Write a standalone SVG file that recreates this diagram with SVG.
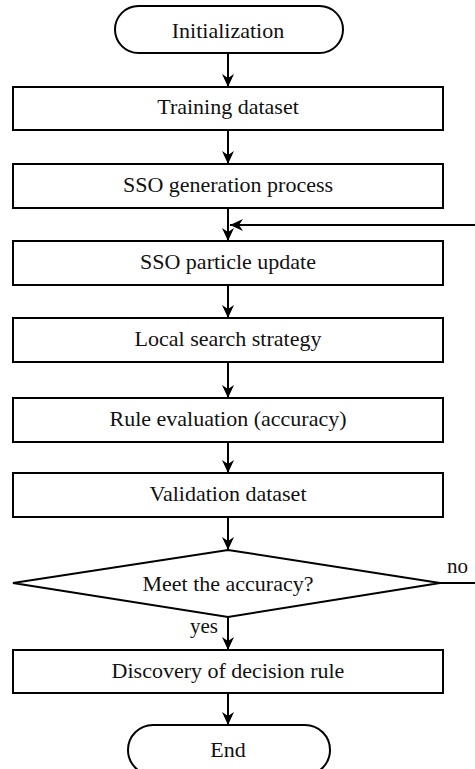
<svg xmlns="http://www.w3.org/2000/svg" width="475" height="769" viewBox="0 0 475 769">
<defs>
<style>
.n{fill:#fff;stroke:#000;stroke-width:2}
.c{fill:none;stroke:#000;stroke-width:2}
.t{font-family:'Liberation Serif','Times New Roman',serif;font-size:22px;fill:#111;text-anchor:middle}
.l{font-family:'Liberation Serif','Times New Roman',serif;font-size:21px;fill:#111}
</style>
<marker id="ah" viewBox="0 0 14 14" refX="13" refY="7" markerWidth="14" markerHeight="14" markerUnits="userSpaceOnUse" orient="auto">
<path d="M0,1 L13,7 L0,13 L4,7 z" fill="#000"/>
</marker>
</defs>
<rect width="475" height="769" fill="#fff"/>
<g id="connectors">
<path class="c" d="M228,53 V87" marker-end="url(#ah)"/>
<path class="c" d="M228,130 V164" marker-end="url(#ah)"/>
<path class="c" d="M228,208 V241" marker-end="url(#ah)"/>
<path class="c" d="M475,225 H230" marker-end="url(#ah)"/>
<path class="c" d="M228,285 V318" marker-end="url(#ah)"/>
<path class="c" d="M228,362 V398" marker-end="url(#ah)"/>
<path class="c" d="M228,442 V473" marker-end="url(#ah)"/>
<path class="c" d="M228,517 V550" marker-end="url(#ah)"/>
<path class="c" d="M228,617 V650" marker-end="url(#ah)"/>
<path class="c" d="M228,693 V725" marker-end="url(#ah)"/>
<path class="c" d="M440,583 H475"/>
<text class="l" x="190" y="633">yes</text>
<text class="l" x="447" y="573">no</text>
</g>
<g id="init">
<rect class="n" x="115" y="6" width="228" height="47" rx="23.5"/>
<text class="t" x="228" y="38">Initialization</text>
</g>
<g id="training">
<rect class="n" x="13" y="87" width="430" height="43"/>
<text class="t" x="228" y="114">Training dataset</text>
</g>
<g id="generation">
<rect class="n" x="13" y="164" width="430" height="44"/>
<text class="t" x="228" y="192">SSO generation process</text>
</g>
<g id="particle">
<rect class="n" x="13" y="241" width="430" height="44"/>
<text class="t" x="228" y="269">SSO particle update</text>
</g>
<g id="local">
<rect class="n" x="13" y="318" width="430" height="44"/>
<text class="t" x="228" y="346">Local search strategy</text>
</g>
<g id="rule">
<rect class="n" x="13" y="398" width="430" height="44"/>
<text class="t" x="228" y="426">Rule evaluation (accuracy)</text>
</g>
<g id="validation">
<rect class="n" x="13" y="473" width="430" height="44"/>
<text class="t" x="228" y="501">Validation dataset</text>
</g>
<g id="decision">
<polygon class="n" points="228,550 440,583 228,617 13,583"/>
<text class="t" x="228" y="591">Meet the accuracy?</text>
</g>
<g id="discovery">
<rect class="n" x="13" y="650" width="430" height="43"/>
<text class="t" x="228" y="678">Discovery of decision rule</text>
</g>
<g id="end">
<rect class="n" x="128" y="725" width="202" height="50" rx="25"/>
<text class="t" x="228" y="757">End</text>
</g>
</svg>
